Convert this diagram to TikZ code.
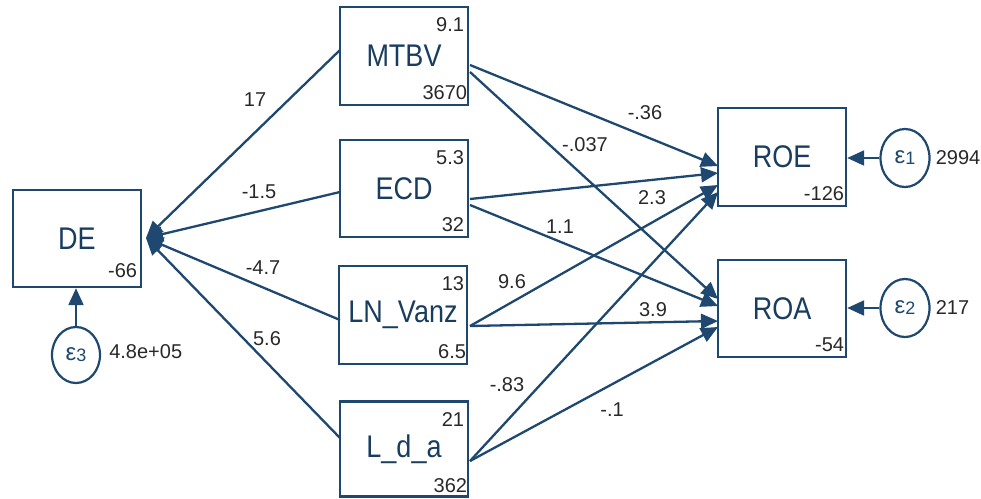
\documentclass[tikz,border=0pt]{standalone}
\usepackage{fontspec}
\setmainfont{Liberation Sans}
\usetikzlibrary{arrows.meta,shapes.geometric}
\definecolor{navy}{RGB}{30,72,112}
\definecolor{numc}{RGB}{40,40,40}
\newcommand{\tallx}[1]{\scalebox{1}[1.16]{#1}}
\tikzset{
  box/.style={draw=navy,line width=2.4pt,minimum width=128pt,minimum height=97pt,inner sep=0pt,font=\fontsize{27}{27}\selectfont,text=navy!85!black},
  err/.style={draw=navy,line width=2.2pt,ellipse,minimum width=49pt,minimum height=58pt,inner sep=0pt,text=navy},
  num/.style={font=\fontsize{20}{20}\selectfont,text=numc,inner sep=0pt},
  path/.style={draw=navy,line width=2.3pt,-{Triangle[length=17pt,width=15pt]}}
}
\begin{document}
\begin{tikzpicture}[x=1pt,y=-1pt]
\useasboundingbox (0,0) rectangle (981,498);
% boxes
\node[box] (DE) at (77,238.5) {\tallx{DE}};
\node[box,minimum height=98pt] (MTBV) at (404,56) {\tallx{MTBV}};
\node[box] (ECD) at (404,188.5) {\tallx{ECD}};
\node[box,minimum height=98pt] (LN) at (403,315) {\tallx{LN\_Vanz}};
\node[box,minimum height=95pt] (LDA) at (404,449) {\tallx{L\_d\_a}};
\node[box,minimum height=98pt] (ROE) at (782,157) {\tallx{ROE}};
\node[box] (ROA) at (782,308.5) {\tallx{ROA}};
% errors
\node[err] (e1) at (905,158) {\fontsize{24}{24}\selectfont ε\raisebox{-1pt}{\fontsize{18}{18}\selectfont 1}};
\node[err] (e2) at (905,308) {\fontsize{24}{24}\selectfont ε\raisebox{-1pt}{\fontsize{18}{18}\selectfont 2}};
\node[err,minimum width=48pt,minimum height=56pt] (e3) at (76,355) {\fontsize{24}{24}\selectfont ε\raisebox{-1pt}{\fontsize{18}{18}\selectfont 3}};
% box numbers
\node[num,anchor=north east] at ([shift={(-5,12)}]MTBV.north east) {9.1};
\node[num,anchor=south east] at ([shift={(-2,-6)}]MTBV.south east) {3670};
\node[num,anchor=north east] at ([shift={(-5,12)}]ECD.north east) {5.3};
\node[num,anchor=south east] at ([shift={(-5,-6)}]ECD.south east) {32};
\node[num,anchor=north east] at ([shift={(-4,12)}]LN.north east) {13};
\node[num,anchor=south east] at ([shift={(-2,-6)}]LN.south east) {6.5};
\node[num,anchor=north east] at ([shift={(-5,12)}]LDA.north east) {21};
\node[num,anchor=south east] at ([shift={(-2,-5)}]LDA.south east) {362};
\node[num,anchor=south east] at ([shift={(-3,-6)}]ROE.south east) {-126};
\node[num,anchor=south east] at ([shift={(-3,-6)}]ROA.south east) {-54};
\node[num,anchor=south east] at ([shift={(-5,-10)}]DE.south east) {-66};
\node[num,anchor=west] (v1) at ([xshift=5pt]e1.east) {2994};
\node[num,anchor=west] (v2) at ([xshift=5pt]e2.east) {217};
\node[num,anchor=west] (v3) at ([xshift=8pt,yshift=3pt]e3.east) {4.8e+05};
% ports
\coordinate (DEin) at (146,238);
\coordinate (MTBVl) at (340,50);
\coordinate (ECDl) at (340,192);
\coordinate (LNl) at (340,320);
\coordinate (LDAl) at (340,438);
\coordinate (MTBVr1) at (470,65);
\coordinate (MTBVr2) at (470,72);
\coordinate (ECDr1) at (470,199);
\coordinate (ECDr2) at (470,205);
\coordinate (LNr) at (470,326);
\coordinate (LDAr) at (470,461);
\coordinate (ROE1) at (718,166);
\coordinate (ROE2) at (718,173);
\coordinate (ROE3) at (718,185);
\coordinate (ROE4) at (718,192);
\coordinate (ROA1) at (718,299);
\coordinate (ROA2) at (718,306);
\coordinate (ROA3) at (718,321);
\coordinate (ROA4) at (718,327);
% connectors to DE
\draw[path] (MTBVl) -- (DEin);
\draw[path] (ECDl) -- (DEin);
\draw[path] (LNl) -- (DEin);
\draw[path] (LDAl) -- (DEin);
% connectors to ROE / ROA
\draw[path] (MTBVr1) -- (ROE1);
\draw[path] (MTBVr2) -- (ROA1);
\draw[path] (ECDr1) -- (ROE2);
\draw[path] (ECDr2) -- (ROA2);
\draw[path] (LNr) -- (ROE3);
\draw[path] (LNr) -- (ROA3);
\draw[path] (LDAr) -- (ROE4);
\draw[path] (LDAr) -- (ROA4);
% errors
\draw[path] (e1) -- (ROE.east |- e1);
\draw[path] (e2) -- (ROA.east |- e2);
\draw[path] (e3) -- (DE.south -| e3);
% labels
\node[num] at (255,100) {17};
\node[num] at (259,192) {-1.5};
\node[num] at (263,268) {-4.7};
\node[num] at (267,339) {5.6};
\node[num] at (645,113) {-.36};
\node[num] at (585,145) {-.037};
\node[num] at (652,198) {2.3};
\node[num] at (560,227) {1.1};
\node[num] at (512,282) {9.6};
\node[num] at (653,310) {3.9};
\node[num] at (507,385) {-.83};
\node[num] at (612,410) {-.1};
\end{tikzpicture}
\end{document}
